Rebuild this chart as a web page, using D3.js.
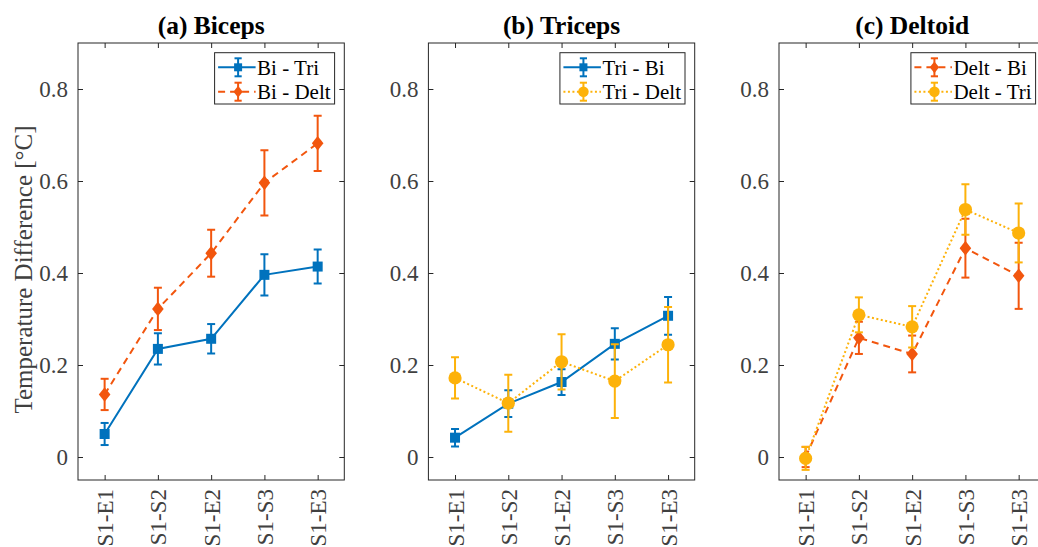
<!DOCTYPE html>
<html>
<head>
<meta charset="utf-8">
<script src="https://cdn.jsdelivr.net/npm/d3@7"></script>
<style>
  html, body { margin: 0; padding: 0; background: #fff; }
  svg { display: block; }
</style>
</head>
<body>
<svg id="chart" width="1038" height="547"></svg>
<script>
// ---------------- data ----------------
const categories = ["S1-E1", "S1-S2", "S1-E2", "S1-S3", "S1-E3"];
const yTicks = [0, 0.2, 0.4, 0.6, 0.8];
const yTickLabels = ["0", "0.2", "0.4", "0.6", "0.8"];
const panelTitles = ["(a) Biceps", "(b) Triceps", "(c) Deltoid"];
const yLabel = "Temperature Difference [°C]";

// panel (a)
const biTri      = [0.050, 0.235, 0.257, 0.396, 0.414];
const biTriErr   = [0.024, 0.034, 0.032, 0.045, 0.037];
const biDelt     = [0.136, 0.322, 0.443, 0.596, 0.682];
const biDeltErr  = [0.034, 0.046, 0.051, 0.071, 0.060];
// panel (b)
const triBi      = [0.042, 0.116, 0.163, 0.246, 0.307];
const triBiErr   = [0.019, 0.029, 0.028, 0.034, 0.041];
const triDelt    = [0.172, 0.117, 0.207, 0.165, 0.244];
const triDeltErr = [0.045, 0.062, 0.060, 0.080, 0.082];
// panel (c)
const deltBi     = [0.000, 0.259, 0.224, 0.454, 0.394];
const deltBiErr  = [0.022, 0.035, 0.040, 0.064, 0.072];
const deltTri    = [-0.003, 0.309, 0.283, 0.538, 0.487];
const deltTriErr = [0.025, 0.038, 0.045, 0.055, 0.064];

// ---------------- styles ----------------
const BLUE = "#0072BD", ORANGE = "#F2560E", YELLOW = "#FDB20A";
const styles = {
  blue:   { color: BLUE,   dash: null,    marker: "square"  },
  orange: { color: ORANGE, dash: "7,5",   marker: "diamond" },
  yellow: { color: YELLOW, dash: "2,2.5", marker: "circle"  }
};

const panels = [
  { title: panelTitles[0], series: [
      { name: "Bi - Tri",  values: biTri,  errs: biTriErr,  style: styles.blue },
      { name: "Bi - Delt", values: biDelt, errs: biDeltErr, style: styles.orange } ] },
  { title: panelTitles[1], series: [
      { name: "Tri - Bi",   values: triBi,   errs: triBiErr,   style: styles.blue },
      { name: "Tri - Delt", values: triDelt, errs: triDeltErr, style: styles.yellow } ] },
  { title: panelTitles[2], series: [
      { name: "Delt - Bi",  values: deltBi,  errs: deltBiErr,  style: styles.orange },
      { name: "Delt - Tri", values: deltTri, errs: deltTriErr, style: styles.yellow } ] }
];

// ---------------- layout ----------------
const FONT = "'Liberation Serif', 'Times New Roman', Times, serif";
const panelLefts = [78, 428.4, 779];
const panelWidth = 266.3;
const axTop = 43, axBottom = 480;
const AX = "#262626";
const TICK = "#404040";

const svg = d3.select("#chart");

function drawMarker(g, type, cx, cy, color, scale) {
  const k = scale || 1;
  if (type === "square") {
    const h = 5 * k;
    g.append("rect").attr("x", cx - h).attr("y", cy - h)
      .attr("width", 2 * h).attr("height", 2 * h).attr("fill", color);
  } else if (type === "diamond") {
    const w = 5.8 * k, h = 7.3 * k;
    g.append("path").attr("d", `M${cx},${cy-h}L${cx+w},${cy}L${cx},${cy+h}L${cx-w},${cy}Z`)
      .attr("fill", color);
  } else {
    g.append("circle").attr("cx", cx).attr("cy", cy).attr("r", 6.6 * k).attr("fill", color);
  }
}

panels.forEach((p, pi) => {
  const left = panelLefts[pi], right = left + panelWidth;
  const x = d3.scaleLinear().domain([0.5, 5.5]).range([left, right]);
  const y = d3.scaleLinear().domain([-0.05, 0.9]).range([axBottom, axTop]);
  const g = svg.append("g");

  const clipId = "clip" + pi;
  g.append("clipPath").attr("id", clipId).append("rect")
    .attr("x", left).attr("y", axTop).attr("width", panelWidth).attr("height", axBottom - axTop);

  const dg = g.append("g").attr("clip-path", `url(#${clipId})`);
  p.series.forEach(s => {
    const idx = d3.range(categories.length);
    const line = d3.line().x(i => x(i + 1)).y(i => y(s.values[i]));
    dg.append("path").datum(idx).attr("d", line)
      .attr("fill", "none").attr("stroke", s.style.color).attr("stroke-width", 2)
      .attr("stroke-dasharray", s.style.dash);
    idx.forEach(i => {
      const cx = x(i + 1);
      const y1 = y(s.values[i] + s.errs[i]), y0 = y(s.values[i] - s.errs[i]);
      dg.append("line").attr("x1", cx).attr("x2", cx).attr("y1", y1).attr("y2", y0)
        .attr("stroke", s.style.color).attr("stroke-width", 2);
      [y0, y1].forEach(yy => dg.append("line").attr("x1", cx - 4).attr("x2", cx + 4)
        .attr("y1", yy).attr("y2", yy).attr("stroke", s.style.color).attr("stroke-width", 2));
      drawMarker(dg, s.style.marker, cx, y(s.values[i]), s.style.color);
    });
  });

  g.append("rect").attr("x", left).attr("y", axTop).attr("width", panelWidth).attr("height", axBottom - axTop)
    .attr("fill", "none").attr("stroke", AX).attr("stroke-width", 1);

  const yAxis = d3.axisLeft(y).tickValues(yTicks).tickSizeInner(-5).tickSizeOuter(0)
    .tickPadding(10).tickFormat((d, i) => yTickLabels[i]);
  const ya = g.append("g").attr("transform", `translate(${left},0)`).call(yAxis);
  ya.select(".domain").remove();
  ya.selectAll(".tick line").attr("stroke", AX);
  ya.selectAll(".tick text").attr("fill", TICK).style("font-family", FONT).style("font-size", "23px");

  const yR = d3.axisRight(y).tickValues(yTicks).tickSizeInner(-5).tickSizeOuter(0).tickFormat("");
  const yra = g.append("g").attr("transform", `translate(${right},0)`).call(yR);
  yra.select(".domain").remove();
  yra.selectAll(".tick line").attr("stroke", AX);

  const xAxis = d3.axisBottom(x).tickValues([1, 2, 3, 4, 5]).tickSizeInner(-5).tickSizeOuter(0)
    .tickFormat((d, i) => categories[i]);
  const xa = g.append("g").attr("transform", `translate(0,${axBottom})`).call(xAxis);
  xa.select(".domain").remove();
  xa.selectAll(".tick line").attr("stroke", AX);
  xa.selectAll(".tick text")
    .attr("fill", TICK).style("font-family", FONT).style("font-size", "23px")
    .attr("transform", "rotate(-90)")
    .attr("text-anchor", "end").attr("x", -9).attr("y", 0).attr("dy", "0.35em");

  const xT = d3.axisTop(x).tickValues([1, 2, 3, 4, 5]).tickSizeInner(-5).tickSizeOuter(0).tickFormat("");
  const xta = g.append("g").attr("transform", `translate(0,${axTop})`).call(xT);
  xta.select(".domain").remove();
  xta.selectAll(".tick line").attr("stroke", AX);

  g.append("text").attr("x", (left + right) / 2).attr("y", 34).attr("text-anchor", "middle")
    .style("font-family", FONT).style("font-size", "25.5px").style("font-weight", "bold")
    .attr("fill", "#000").text(p.title);

  const lg = g.append("g");
  const box = lg.append("rect").attr("fill", "#fff").attr("stroke", AX).attr("stroke-width", 1);
  const textX = 42.5;
  let maxW = 0;
  const rowsY = [14.6, 39];
  p.series.forEach((s, si) => {
    const row = lg.append("g").attr("transform", `translate(0,${rowsY[si]})`);
    row.append("line").attr("x1", 3.5).attr("x2", 41).attr("y1", 0).attr("y2", 0)
      .attr("stroke", s.style.color).attr("stroke-width", 2).attr("stroke-dasharray", s.style.dash);
    const mc = 23.5;
    row.append("line").attr("x1", mc).attr("x2", mc).attr("y1", -9).attr("y2", 9)
      .attr("stroke", s.style.color).attr("stroke-width", 2);
    [-9, 9].forEach(yy => row.append("line").attr("x1", mc - 3.6).attr("x2", mc + 3.6)
      .attr("y1", yy).attr("y2", yy).attr("stroke", s.style.color).attr("stroke-width", 2));
    drawMarker(row, s.style.marker, mc, 0, s.style.color, 0.8);
    const t = row.append("text").attr("x", textX).attr("y", 0).attr("dy", "0.35em")
      .style("font-family", FONT).style("font-size", "21px").attr("fill", "#000").text(s.name);
    maxW = Math.max(maxW, t.node().getComputedTextLength());
  });
  const bw = textX + maxW + 4, bh = 51.3;
  const bx = right - 9.7 - bw, by = axTop + 9.7;
  box.attr("x", 0).attr("y", 0).attr("width", bw).attr("height", bh);
  lg.attr("transform", `translate(${bx},${by})`);
});

svg.append("text")
  .attr("transform", `translate(32,${(axTop + axBottom) / 2 + 8}) rotate(-90)`)
  .attr("text-anchor", "middle")
  .style("font-family", FONT).style("font-size", "25px").attr("fill", TICK)
  .text(yLabel);
</script>
</body>
</html>
